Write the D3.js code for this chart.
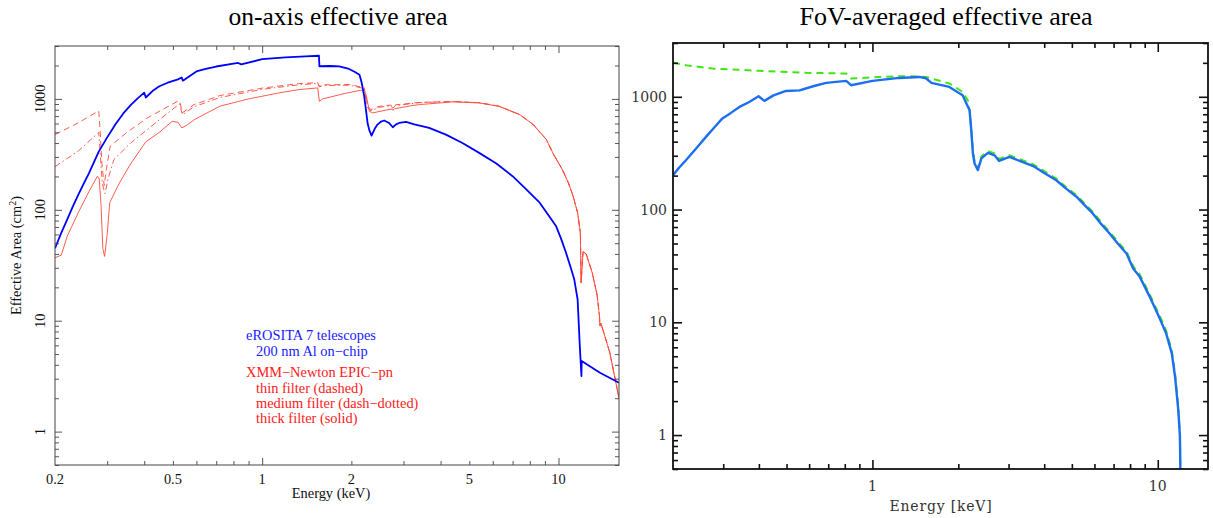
<!DOCTYPE html>
<html><head><meta charset="utf-8">
<script src="https://cdn.jsdelivr.net/npm/d3@7"></script>
<style>body{margin:0;background:#fff}svg{display:block}</style>
</head><body>
<svg id="c" width="1213" height="518"></svg>
<script>
// ---------- DATA ----------
// Left panel: on-axis effective area (energy keV, area cm^2)
const eroE = [0.2,0.21,0.22,0.23,0.24,0.25,0.26,0.27,0.281,0.3,0.32,0.34,0.36,0.38,0.4,0.405,0.43,0.45,0.48,0.52,0.535,0.54,0.6,0.645,0.7,0.8,0.83,0.85,1.0,1.2,1.4,1.555,1.56,1.7,1.82,1.95,2.05,2.13,2.16,2.18,2.21,2.24,2.27,2.3,2.34,2.4,2.45,2.52,2.58,2.68,2.76,2.83,2.9,3.06,3.26,3.4,3.66,4.17,4.74,5.4,6.17,7.0,7.8,8.64,9.2,9.82,10.2,10.6,11.0,11.3,11.6,11.8,11.95,11.97,13.8,16];
const eroA = [45,62,82,108,138,172,212,265,335,450,590,740,880,1010,1140,1030,1200,1300,1400,1500,1560,1460,1770,1862,1960,2080,2110,2050,2280,2370,2420,2450,1970,1980,1965,1880,1760,1648,1450,1290,1055,800,600,520,467,540,587,625,639,607,555,590,607,620,590,575,548,476,400,326,262,201,152,116,91,71,55,41,30,23.6,15.6,5.9,3.17,4.33,3.4,2.76];

const thinE = [0.2,0.24,0.281,0.284,0.288,0.293,0.298,0.307,0.35,0.41,0.518,0.527,0.538,0.589,0.72,1.0,1.33,1.54,1.56,1.6,1.97,2.21,2.27,2.33,2.48,2.72,2.76,2.82,3.39,4.4,5.4,6.3,7.4,8.2,9.1,9.6,10.3,10.8,11.2,11.6,11.85,11.92,12.1,12.4,13.0,13.5,13.75,13.8,13.9,14.9,16];
const thinA = [477,610,780,520,260,165,230,374,500,675,951,960,750,889,1072,1250,1374,1400,1300,1340,1350,1262,857,800,857,880,840,885,930,950,925,860,722,590,430,320,231,175,133,94,62,22,42,40,27,17,11,9,9.5,5.15,2.0];

const medE = [0.2,0.24,0.281,0.284,0.289,0.295,0.302,0.316,0.36,0.41,0.505,0.527,0.538,0.589,0.72,1.0,1.33,1.54,1.56,1.6,1.97,2.21,2.27,2.33,2.48,2.72,2.76,2.82,3.39,4.4,5.4,6.3,7.4,8.2,9.1,9.6,10.3,10.8,11.2,11.6,11.85,11.92,12.1,12.4,13.0,13.5,13.75,13.8,13.9,14.9,16];
const medA = [245,340,500,330,170,140,190,284,400,530,829,900,720,850,1030,1220,1340,1380,1280,1320,1330,1240,830,780,840,870,825,870,925,948,923,858,721,590,430,320,231,175,133,94,62,22,42,40,27,17,11,9,9.5,5.15,2.0];

const thickE = [0.2,0.21,0.22,0.24,0.26,0.278,0.282,0.286,0.29,0.294,0.3,0.306,0.33,0.36,0.405,0.45,0.497,0.52,0.536,0.56,0.59,0.72,0.9,1.14,1.33,1.54,1.56,1.6,1.9,2.16,2.24,2.3,2.36,2.6,2.74,2.76,2.8,3.2,3.4,4.4,5.4,6.3,7.4,8.2,9.1,9.6,10.3,10.8,11.2,11.6,11.85,11.92,12.1,12.4,13.0,13.5,13.75,13.8,13.9,14.9,16];
const thickA = [37,39,58,95,145,201,190,110,45,38,60,116,175,260,410,500,628,615,548,585,650,860,1000,1133,1213,1257,951,1000,1120,1200,1110,773,748,790,810,790,815,870,889,940,920,857,722,590,430,320,231,175,133,94,62,22,42,40,27,17,11,9,9.5,5.15,2.0];

// Right panel: FoV-averaged effective area
const fovBlueE = [0.2,0.21,0.222,0.241,0.261,0.28,0.298,0.319,0.342,0.37,0.399,0.418,0.45,0.498,0.555,0.62,0.688,0.809,0.842,1.0,1.24,1.46,1.54,1.61,1.86,2.07,2.19,2.22,2.25,2.28,2.34,2.41,2.54,2.68,2.78,3.02,3.66,4.0,4.41,4.76,5.19,5.55,5.93,6.32,6.79,7.24,7.77,8.2,8.65,9.38,10.1,10.7,11.2,11.5,11.8,11.96,12.0];
const fovBlueA = [202,235,274,348,441,540,643,720,813,900,1011,920,1030,1127,1140,1240,1328,1385,1267,1385,1470,1500,1460,1330,1224,1033,760,506,314,256,224,284,318,303,270,293,243,211,182,154,130,109,92,75,61,50,40.8,30,25.3,16.8,11.2,7.98,5.3,3.29,1.67,0.97,0.5];
const fovGreenE = [0.2,0.222,0.275,0.401,0.585,0.809,0.842,1.06,1.31,1.54,1.86,2.07,2.16,2.2,2.25,2.28,2.34,2.41,2.54,2.68,2.78,3.02,3.66,4.0,4.41,4.76,5.19,5.55,5.93,6.32,6.79,7.24,7.77,8.2,8.65,9.38,10.1,10.7,11.2,11.5,11.8,11.96,12.0];
const fovGreenA = [2014,1905,1781,1700,1631,1610,1453,1500,1525,1500,1312,1107,929,700,330,268,232,296,330,315,281,303,252,219,188,159,134,113,95,78,63,52,42.5,31.5,26.5,17.6,11.8,8.4,5.6,3.5,1.8,1.0,0.5];

// Axes / ticks
const leftXDomain = [0.2, 16];
const rightXDomain = [0.2, 15];
const yDomain = [0.5, 3000];
const xMajorTicks = [1, 10];
const xMinorTicks = [0.3,0.4,0.5,0.6,0.7,0.8,0.9,2,3,4,5,6,7,8,9];
const yMajorTicks = [1, 10, 100, 1000];
const yMinorTicks = [0.5,0.6,0.7,0.8,0.9,2,3,4,5,6,7,8,9,20,30,40,50,60,70,80,90,200,300,400,500,600,700,800,900,2000,3000];
const leftXLabels = ["0.2","0.5","1","2","5","10"];
const rightXLabels = ["1","10"];
const yLabels = ["1","10","100","1000"];

const legendLines = [
  {t:"eROSITA 7 telescopes", c:"blue", indent:0, dy:0},
  {t:"200 nm Al on\u2212chip", c:"blue", indent:1, dy:16},
  {t:"XMM\u2212Newton EPIC\u2212pn", c:"red", indent:0, dy:37},
  {t:"thin filter (dashed)", c:"red", indent:1, dy:53},
  {t:"medium filter (dash\u2212dotted)", c:"red", indent:1, dy:68},
  {t:"thick filter (solid)", c:"red", indent:1, dy:83}
];

// ---------- DRAW ----------
const svg = d3.select("#c");
const serif = "'Liberation Serif','Times New Roman',serif";
const serif2 = "'DejaVu Serif',serif";

function zip(E, A) { return E.map((e, i) => [e, A[i]]); }

function drawTicks(g, x, y, box, majLen, minLen, color, sw) {
  const mk = (fn, scale, vals, len, tr) => {
    const a = g.append("g").attr("transform", tr)
      .call(fn(scale).tickValues(vals).tickSize(-len).tickSizeOuter(0).tickFormat(""));
    a.select(".domain").remove();
    a.selectAll("line").attr("stroke", color).attr("stroke-width", sw);
  };
  mk(d3.axisBottom, x, xMajorTicks, majLen, `translate(0,${box.y1})`);
  mk(d3.axisBottom, x, xMinorTicks, minLen, `translate(0,${box.y1})`);
  mk(d3.axisTop, x, xMajorTicks, majLen, `translate(0,${box.y0})`);
  mk(d3.axisTop, x, xMinorTicks, minLen, `translate(0,${box.y0})`);
  mk(d3.axisLeft, y, yMajorTicks, majLen, `translate(${box.x0},0)`);
  mk(d3.axisLeft, y, yMinorTicks, minLen, `translate(${box.x0},0)`);
  mk(d3.axisRight, y, yMajorTicks, majLen, `translate(${box.x1},0)`);
  mk(d3.axisRight, y, yMinorTicks, minLen, `translate(${box.x1},0)`);
}

// ===== Left panel =====
const LB = {x0:55, x1:619, y0:46, y1:465};
const xL = d3.scaleLog().domain(leftXDomain).range([LB.x0, LB.x1]);
const yL = d3.scaleLog().domain(yDomain).range([LB.y1, LB.y0]);
const gL = svg.append("g");
const defs = svg.append("defs");
defs.append("clipPath").attr("id","clipL").append("rect")
  .attr("x",LB.x0).attr("y",LB.y0).attr("width",LB.x1-LB.x0).attr("height",LB.y1-LB.y0);

const lineL = d3.line().x(d => xL(d[0])).y(d => yL(d[1]));
const curvesL = gL.append("g").attr("clip-path","url(#clipL)");
curvesL.append("path").datum(zip(thickE, thickA)).attr("d", lineL)
  .attr("fill","none").attr("stroke","#ff4a3a").attr("stroke-width",0.9);
curvesL.append("path").datum(zip(medE, medA)).attr("d", lineL)
  .attr("fill","none").attr("stroke","#ff4a3a").attr("stroke-width",0.9).attr("stroke-dasharray","6,3,1.5,3");
curvesL.append("path").datum(zip(thinE, thinA)).attr("d", lineL)
  .attr("fill","none").attr("stroke","#ff4a3a").attr("stroke-width",0.9).attr("stroke-dasharray","6,4");
curvesL.append("path").datum(zip(eroE, eroA)).attr("d", lineL)
  .attr("fill","none").attr("stroke","#0000ff").attr("stroke-width",1.8).attr("stroke-linejoin","round");

drawTicks(gL, xL, yL, LB, 7, 4, "#444", 0.9);
gL.append("rect").attr("x",LB.x0).attr("y",LB.y0).attr("width",LB.x1-LB.x0).attr("height",LB.y1-LB.y0)
  .attr("fill","none").attr("stroke","#444").attr("stroke-width",1);

gL.append("g").selectAll("text").data(leftXLabels).join("text")
  .attr("x", d => xL(+d)).attr("y", 484).attr("text-anchor","middle")
  .attr("font-family", serif).attr("font-size", 14.4).attr("fill","#111").text(d => d);
gL.append("g").selectAll("text").data(yLabels).join("text")
  .attr("transform", d => `translate(45,${yL(+d)}) rotate(-90)`).attr("text-anchor","middle")
  .attr("font-family", serif).attr("font-size", 14.4).attr("fill","#111").text(d => d);
gL.append("text").attr("x", (LB.x0+LB.x1)/2 - 6).attr("y", 498).attr("text-anchor","middle")
  .attr("font-family", serif).attr("font-size", 14.4).attr("fill","#111").text("Energy (keV)");
const yt = gL.append("text").attr("transform", `translate(21,${(LB.y0+LB.y1)/2}) rotate(-90)`)
  .attr("text-anchor","middle").attr("font-family", serif).attr("font-size", 14.4).attr("fill","#111");
yt.append("tspan").text("Effective Area (cm");
yt.append("tspan").attr("font-size", 10).attr("dy", -5).text("2");
yt.append("tspan").attr("dy", 5).text(")");
gL.append("text").attr("x", 338).attr("y", 25).attr("text-anchor","middle")
  .attr("font-family", serif).attr("font-size", 25.5).attr("fill","#000").text("on-axis effective area");

gL.append("g").selectAll("text").data(legendLines).join("text")
  .attr("x", d => 246 + d.indent*10).attr("y", d => 340 + d.dy)
  .attr("font-family", serif).attr("font-size", 14.4)
  .attr("fill", d => d.c === "blue" ? "#1a1aff" : "#ff1a1a").text(d => d.t);

// ===== Right panel =====
const RB = {x0:673, x1:1208, y0:43, y1:469};
const xR = d3.scaleLog().domain(rightXDomain).range([RB.x0, RB.x1]);
const yR = d3.scaleLog().domain(yDomain).range([RB.y1, RB.y0]);
const gR = svg.append("g");
defs.append("clipPath").attr("id","clipR").append("rect")
  .attr("x",RB.x0).attr("y",RB.y0).attr("width",RB.x1-RB.x0).attr("height",RB.y1-RB.y0);
const lineR = d3.line().x(d => xR(d[0])).y(d => yR(d[1]));
const curvesR = gR.append("g").attr("clip-path","url(#clipR)");
curvesR.append("path").datum(zip(fovGreenE, fovGreenA)).attr("d", lineR)
  .attr("fill","none").attr("stroke","#3fe612").attr("stroke-width",2).attr("stroke-dasharray","7,5");
curvesR.append("path").datum(zip(fovBlueE, fovBlueA)).attr("d", lineR)
  .attr("fill","none").attr("stroke","#1c6ff2").attr("stroke-width",2.4).attr("stroke-linejoin","round");

drawTicks(gR, xR, yR, RB, 9, 5, "#111", 1.6);
gR.append("rect").attr("x",RB.x0).attr("y",RB.y0).attr("width",RB.x1-RB.x0).attr("height",RB.y1-RB.y0)
  .attr("fill","none").attr("stroke","#111").attr("stroke-width",1.8);

gR.append("g").selectAll("text").data(rightXLabels).join("text")
  .attr("x", d => xR(+d)).attr("y", 491).attr("text-anchor","middle")
  .attr("font-family", serif2).attr("font-size", 14).attr("fill","#333").text(d => d);
gR.append("g").selectAll("text").data(yLabels).join("text")
  .attr("x", 667).attr("y", d => yR(+d) + 5).attr("text-anchor","end")
  .attr("font-family", serif2).attr("font-size", 14).attr("fill","#333").text(d => d);
gR.append("text").attr("x", 941).attr("y", 511).attr("text-anchor","middle")
  .attr("font-family", serif2).attr("font-size", 14).attr("letter-spacing", 0.8).attr("fill","#333").text("Energy [keV]");
gR.append("text").attr("x", 946).attr("y", 25).attr("text-anchor","middle")
  .attr("font-family", serif).attr("font-size", 26).attr("fill","#000").text("FoV-averaged effective area");
</script>
</body></html>
